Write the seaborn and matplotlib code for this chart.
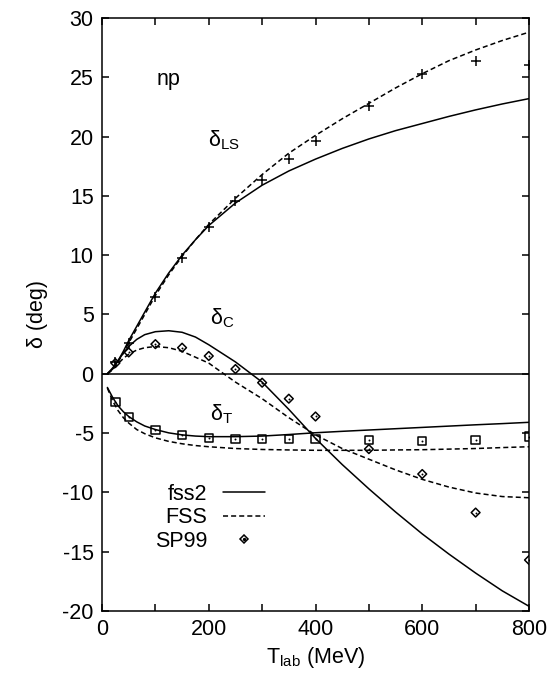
import numpy as np
import pandas as pd
import seaborn as sns
import matplotlib.pyplot as plt
from matplotlib.lines import Line2D
from matplotlib.legend_handler import HandlerTuple

# energy grid of the theory curves (MeV)
T_curve = [10, 20, 30, 40, 50, 65, 80, 100, 125, 150, 175, 200, 250, 300,
           350, 400, 450, 500, 550, 600, 650, 700, 750, 800]

# delta_LS
ls_fss2 = [0.0, 0.4, 1.1, 1.9, 2.8, 4.0, 5.2, 6.8, 8.5, 10.0, 11.3, 12.5, 14.4,
           15.9, 17.1, 18.1, 19.0, 19.8, 20.5, 21.1, 21.7, 22.25, 22.75, 23.2]
ls_fss = [0.0, 0.35, 1.0, 1.75, 2.6, 3.8, 5.0, 6.6, 8.35, 9.9, 11.3, 12.6, 14.8,
          16.8, 18.6, 20.1, 21.5, 22.8, 24.1, 25.3, 26.4, 27.3, 28.1, 28.8]

# delta_C
c_fss2 = [0.0, 0.5, 1.1, 1.75, 2.3, 2.9, 3.3, 3.55, 3.63, 3.5, 3.1, 2.45, 1.0,
          -0.7, -3.0, -5.45, -7.65, -9.7, -11.65, -13.5, -15.2, -16.8, -18.3, -19.6]
c_fss = [0.0, 0.4, 0.85, 1.3, 1.65, 2.0, 2.2, 2.3, 2.2, 1.9, 1.4, 0.9, -0.7,
         -2.1, -3.7, -5.15, -6.3, -7.2, -8.1, -8.9, -9.55, -10.05, -10.35, -10.45]

# delta_T
t_fss2 = [-1.15, -2.0, -2.7, -3.2, -3.6, -4.05, -4.4, -4.7, -4.98, -5.15, -5.25,
          -5.3, -5.3, -5.25, -5.12, -4.97, -4.85, -4.74, -4.63, -4.52, -4.41,
          -4.3, -4.2, -4.09]
t_fss = [-1.2, -2.3, -3.1, -3.7, -4.15, -4.7, -5.05, -5.4, -5.7, -5.9, -6.05,
         -6.15, -6.3, -6.38, -6.42, -6.45, -6.45, -6.45, -6.42, -6.4, -6.35,
         -6.3, -6.22, -6.15]

# SP99 phase shift analysis
T_data = [25, 50, 100, 150, 200, 250, 300, 350, 400, 500, 600, 700, 800]
ls_sp99 = [1.0, 2.6, 6.5, 9.8, 12.4, 14.55, 16.35, 18.1, 19.6, 22.6, 25.3, 26.4, 26.05]
c_sp99 = [0.9, 1.8, 2.5, 2.2, 1.5, 0.4, -0.75, -2.1, -3.6, -6.35, -8.45, -11.7, -15.7]
t_sp99 = [-2.35, -3.67, -4.74, -5.16, -5.4, -5.5, -5.5, -5.5, -5.52, -5.58,
          -5.67, -5.58, -5.3]

curves = pd.concat([
    pd.DataFrame({"T": T_curve, "delta": v, "model": m, "wave": w})
    for v, m, w in [(ls_fss2, "fss2", "LS"), (ls_fss, "FSS", "LS"),
                    (c_fss2, "fss2", "C"), (c_fss, "FSS", "C"),
                    (t_fss2, "fss2", "T"), (t_fss, "FSS", "T")]
], ignore_index=True)

sns.set_style("ticks")
plt.rcParams["font.family"] = ["Liberation Sans", "DejaVu Sans"]
plt.rcParams["mathtext.fontset"] = "custom"
plt.rcParams["mathtext.rm"] = "Liberation Sans"
plt.rcParams["mathtext.it"] = "Liberation Sans:italic"
plt.rcParams["axes.unicode_minus"] = False
for k in ["text.color", "axes.labelcolor", "xtick.color", "ytick.color",
          "axes.edgecolor"]:
    plt.rcParams[k] = "black"

FS = 15.5
LW = 1.1

fig = plt.figure(figsize=(5.5, 6.73), dpi=100)
ax = fig.add_axes([0.1855, 0.0921, 0.9618 - 0.1855, 0.9733 - 0.0921])

ax.axhline(0, color="black", lw=LW, zorder=1)

sns.lineplot(data=curves, x="T", y="delta", style="model", units="wave",
             estimator=None, color="black", linewidth=LW,
             dashes={"fss2": "", "FSS": (3.3, 2.0)}, legend=False, ax=ax)

# data points
sns.scatterplot(x=T_data, y=ls_sp99, marker="+", s=45, color="black",
                linewidth=LW, ax=ax, zorder=3)
sns.scatterplot(x=T_data, y=c_sp99, marker="D", s=20, facecolor="none",
                edgecolor="black", linewidth=LW, ax=ax, zorder=3)
sns.scatterplot(x=T_data, y=t_sp99, marker="s", s=36, facecolor="none",
                edgecolor="black", linewidth=LW, ax=ax, zorder=3)
sns.scatterplot(x=T_data + T_data, y=c_sp99 + t_sp99, marker="o", s=2,
                color="black", linewidth=0, ax=ax, zorder=4)

ax.set_xlim(0, 800)
ax.set_ylim(-20, 30)
xt = list(range(0, 801, 100))
ax.set_xticks(xt)
ax.set_xticklabels([str(v) if v % 200 == 0 else "" for v in xt])
ax.set_yticks(range(-20, 31, 5))
ax.tick_params(direction="in", top=True, right=True, length=5, width=LW,
               labelsize=FS, pad=6)
for s in ax.spines.values():
    s.set_linewidth(LW)

ax.set_xlabel("T$_{\\mathrm{lab}}$ (MeV)", fontsize=FS, labelpad=3)
ax.set_ylabel("\u03b4 (deg)", fontsize=FS, labelpad=10)

# annotations
ax.text(103, 24.35, "np", fontsize=FS)
ax.text(199, 19.2, "\u03b4$_{\\mathrm{LS}}$", fontsize=FS)
ax.text(202, 4.2, "\u03b4$_{\\mathrm{C}}$", fontsize=FS)
ax.text(202, -3.9, "\u03b4$_{\\mathrm{T}}$", fontsize=FS)

h_fss2 = Line2D([], [], color="black", lw=LW)
h_fss = Line2D([], [], color="black", lw=LW, dashes=(3.3, 2.0))
h_dia = Line2D([], [], ls="none", marker="D", ms=4.5, mfc="none",
               mec="black", mew=LW)
h_dot = Line2D([], [], ls="none", marker="o", ms=1.4, color="black")
ax.legend([h_fss2, h_fss, (h_dia, h_dot)], ["fss2", "FSS", "SP99"],
          handler_map={tuple: HandlerTuple(ndivide=1, pad=0)},
          loc="upper right", bbox_to_anchor=(0.382, 0.215), frameon=False,
          markerfirst=False, fontsize=FS, handlelength=1.95,
          handletextpad=0.75, labelspacing=0.12, borderpad=0,
          borderaxespad=0)

plt.savefig("out.png", dpi=100)
